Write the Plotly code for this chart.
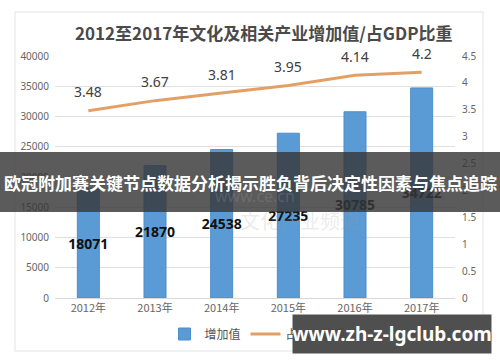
import plotly.graph_objects as go

years = ["2012年", "2013年", "2014年", "2015年", "2016年", "2017年"]
added_value = [18071, 21870, 24538, 27235, 30785, 34722]
gdp_share = [3.48, 3.67, 3.81, 3.95, 4.14, 4.2]
title_text = "2012至2017年文化及相关产业增加值/占GDP比重"
banner_text = "欧冠附加赛关键节点数据分析揭示胜负背后决定性因素与焦点追踪"
site_text = "www.zh-z-lgclub.com"

FONT = "Noto Sans, Noto Sans CJK SC, sans-serif"
CJK = "Noto Sans CJK SC, sans-serif"

# plot area in pixels: x 55..455, y 56..298
L, R, T, B = 55, 455, 56, 298
def px(x):
    return (x - L) / (R - L)
def py(y):
    return (B - y) / (B - T)

fig = go.Figure()
fig.add_trace(go.Bar(
    x=years, y=added_value, name="增加值",
    marker=dict(color="#5B9BD5", line=dict(color="#4F8CC9", width=1)),
    text=[str(v) for v in added_value], textposition="inside",
    insidetextanchor="middle", textangle=0, constraintext="none",
    textfont=dict(family=FONT, size=14, color="#111111", weight="bold"),
    width=0.33,
))
fig.add_trace(go.Scatter(
    x=years, y=gdp_share, name="占GDP比重", yaxis="y2", mode="lines",
    line=dict(color="#E3A066", width=3),
))
for xv, yv in zip(years, gdp_share):
    fig.add_annotation(x=xv, y=yv, xref="x", yref="y2", text=f"{yv:g}",
                       showarrow=False, yshift=19,
                       font=dict(family=FONT, size=14, color="#404040"))

shapes = [
    # card
    dict(type="rect", xref="paper", yref="paper", x0=px(15), x1=px(483),
         y0=py(351), y1=py(12), line=dict(color="#E3E3E3", width=1),
         fillcolor="rgba(0,0,0,0)", layer="below"),
    # banner
    dict(type="rect", xref="paper", yref="paper", x0=px(0), x1=px(500),
         y0=py(212), y1=py(152), line=dict(width=0),
         fillcolor="rgba(55,55,55,0.82)", layer="above"),
]

annotations = [
    dict(xref="paper", yref="paper", x=px(263), y=py(32), text=title_text,
         showarrow=False, font=dict(family=CJK, size=17, color="#4a4a4a", weight="bold")),
    dict(xref="paper", yref="paper", x=px(255), y=py(196), text="www.ce.cn",
         showarrow=False, font=dict(family=FONT, size=16, color="rgba(150,150,150,0.3)")),
    dict(xref="paper", yref="paper", x=px(300), y=py(220), text="文化产业频道",
         showarrow=False, font=dict(family=CJK, size=20, color="rgba(150,150,150,0.2)")),
    dict(xref="paper", yref="paper", x=px(250), y=py(182), text=banner_text,
         showarrow=False, font=dict(family=CJK, size=17, color="white", weight="bold")),
    dict(xref="paper", yref="paper", x=px(392), y=py(334), text=site_text,
         showarrow=False, width=198, height=38, bgcolor="rgba(70,70,70,0.95)",
         borderpad=0, font=dict(family=FONT, size=19, color="white", weight="bold")),
]
for a in annotations:
    a["xanchor"] = "center"
    a["yanchor"] = "middle"
    fig.add_annotation(**a)

fig.update_layout(
    width=500, height=362,
    margin=dict(l=L, r=500 - R, t=T, b=362 - B, pad=0, autoexpand=False),
    paper_bgcolor="white", plot_bgcolor="white",
    font=dict(family=FONT, color="#666666"),
    shapes=shapes,
    bargap=0.67,
    showlegend=True,
    legend=dict(orientation="h", x=px(258), xanchor="center", y=py(334),
                yanchor="middle", font=dict(family=CJK, size=12, color="#555555"),
                bgcolor="rgba(0,0,0,0)", itemwidth=30, traceorder="normal"),
    xaxis=dict(showgrid=False, showline=True, linecolor="#D9D9D9", ticks="",
               automargin=False,
               tickfont=dict(family=CJK, size=11, color="#666666")),
    yaxis=dict(range=[0, 40000], dtick=5000, tickformat="d", showgrid=True,
               gridcolor="#E0E0E0", zeroline=False, showline=False, automargin=False,
               tickfont=dict(size=10, color="#666666"), ticklabelstandoff=5),
    yaxis2=dict(range=[0, 4.5], dtick=0.5, overlaying="y", side="right",
                showgrid=False, zeroline=False, showline=False, automargin=False,
                tickfont=dict(size=10, color="#666666"), ticklabelstandoff=6),
)

fig.write_html("out.html", config={"displayModeBar": False},
               post_script="document.body.style.margin='0';document.body.style.overflow='hidden';")
